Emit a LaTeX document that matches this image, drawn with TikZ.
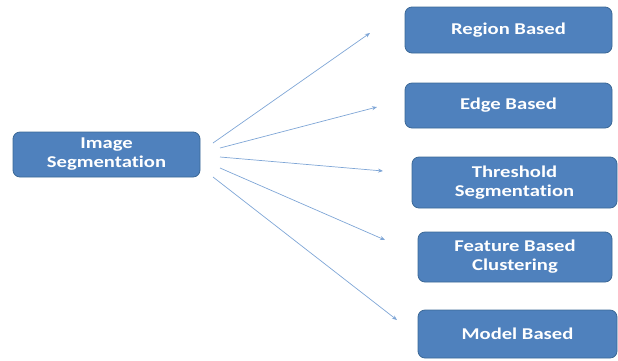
\documentclass[tikz,border=0pt]{standalone}
\usepackage{graphicx}
\usepackage{fontspec}
\setmainfont{Carlito}
\newfontfamily\boxfont[Ligatures=NoCommon]{Carlito}
\newcommand\widetxt[1]{\scalebox{1.25}[1]{#1}}
\usetikzlibrary{arrows.meta}
\definecolor{boxblue}{HTML}{4F81BD}
\definecolor{boxedge}{HTML}{3B6896}
\definecolor{arrowblue}{HTML}{7FA6D6}
\begin{document}
\begin{tikzpicture}[x=1pt,y=-1pt,
  catbox/.style={draw=boxedge,line width=0.8pt,fill=boxblue,rounded corners=7pt,
    text=white,align=center,inner sep=0pt,
    font=\boxfont\bfseries\fontsize{16.5}{19}\selectfont},
  link/.style={draw=arrowblue,line width=0.7pt,-{Stealth[length=5pt,width=4pt]}}]
\useasboundingbox (0,0) rectangle (618,360);
\node[catbox,minimum width=187pt,minimum height=45pt] (is) at (106.5,154.5) {\widetxt{Image}\\\widetxt{Segmentation}};
\node[catbox,minimum width=207pt,minimum height=46pt] (rb) at (508.5,30) {\widetxt{Region Based}};
\node[catbox,minimum width=207pt,minimum height=45pt] (eb) at (508.5,105.5) {\widetxt{Edge Based}};
\node[catbox,minimum width=205pt,minimum height=51pt] (ts) at (514.5,182.5) {\widetxt{Threshold}\\\widetxt{Segmentation}};
\node[catbox,minimum width=194pt,minimum height=50pt] (fb) at (515,257) {\widetxt{Feature Based}\\\widetxt{Clustering}};
\node[catbox,minimum width=199pt,minimum height=48pt] (mb) at (517.5,334) {\widetxt{Model Based}};
\coordinate (s1) at (213,143);
\coordinate (s2) at (220,148);
\coordinate (s3) at (220,157);
\coordinate (s4) at (220,168);
\coordinate (s5) at (213,177);
\coordinate (e1) at (370,33);
\coordinate (e2) at (377,107);
\coordinate (e3) at (383,171);
\coordinate (e4) at (385,240);
\coordinate (e5) at (397,320);
\draw[link] (s1) -- (e1);
\draw[link] (s2) -- (e2);
\draw[link] (s3) -- (e3);
\draw[link] (s4) -- (e4);
\draw[link] (s5) -- (e5);
\end{tikzpicture}
\end{document}
